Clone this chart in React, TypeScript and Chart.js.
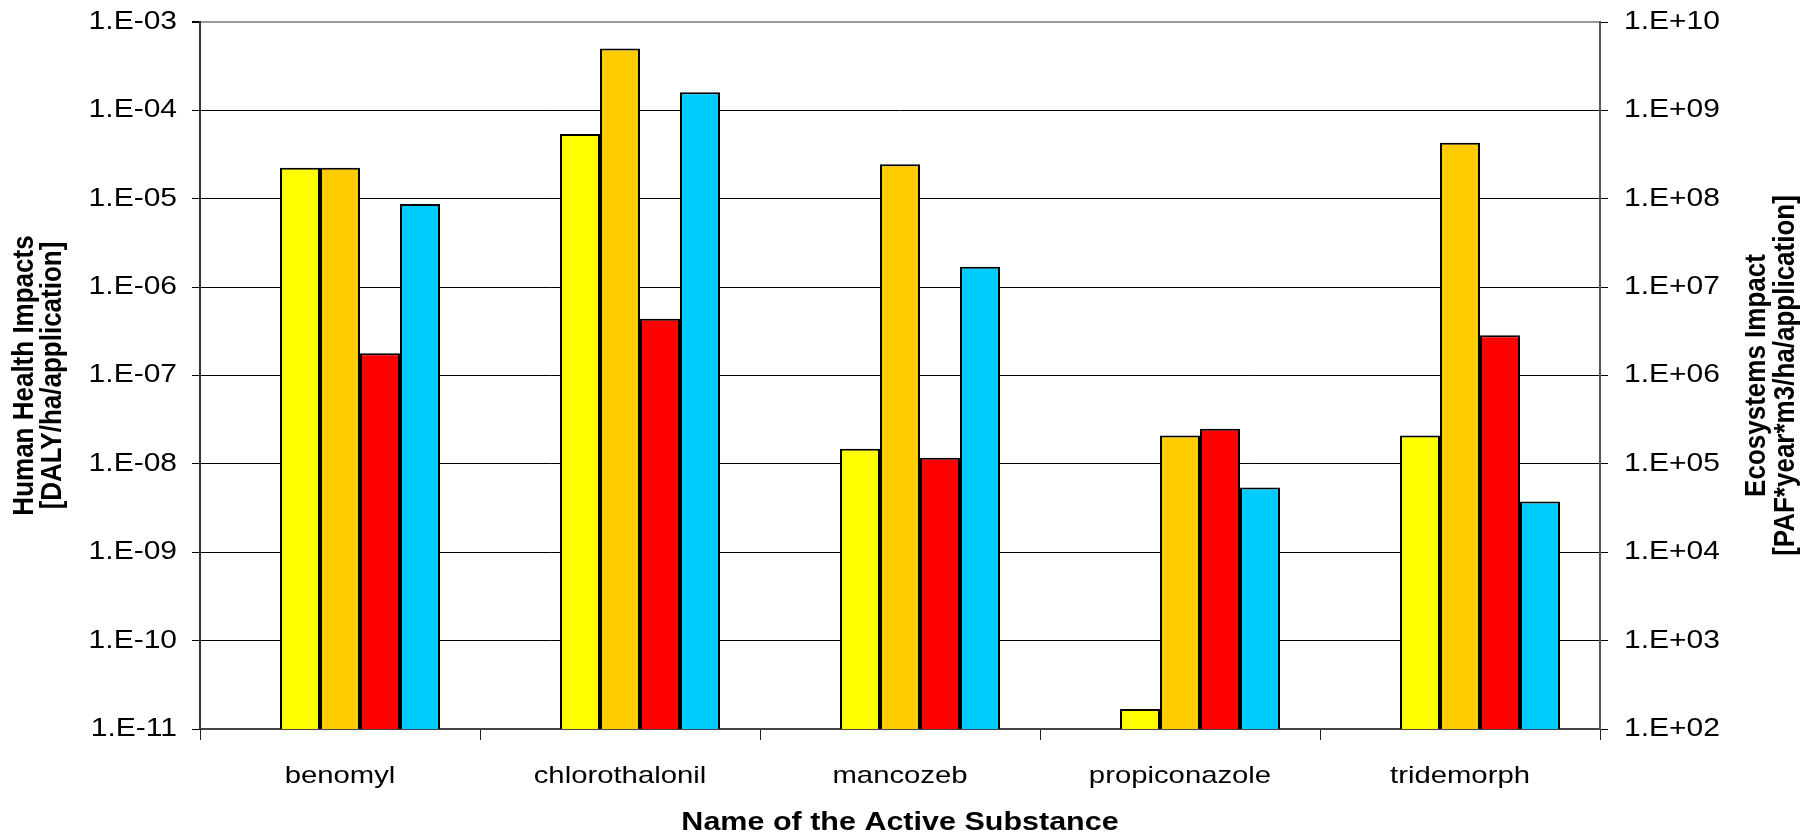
import { useEffect, useRef } from 'react';
import { Chart, registerables } from 'chart.js';

Chart.register(...registerables);

const categories = ['benomyl', 'chlorothalonil', 'mancozeb', 'propiconazole', 'tridemorph'];

// empty first slot in every group (as in the original chart)
const emptySeries = [null, null, null, null, null];
// human health impacts (left axis)
const yellowSeries = [2.25e-5, 5.4e-5, 1.48e-8, 1.68e-11, 2.1e-8];
const orangeSeries = [2.25e-5, 5.0e-4, 2.45e-5, 2.1e-8, 4.3e-5];
// ecosystems impacts (right axis)
const redSeries = [1.78e6, 4.4e6, 1.17e5, 2.5e5, 2.85e6];
const cyanSeries = [8.7e7, 1.6e9, 1.7e7, 5.4e4, 3.75e4];

const leftTickValues = [1e-11, 1e-10, 1e-9, 1e-8, 1e-7, 1e-6, 1e-5, 1e-4, 1e-3];
const leftTickLabels = ['1.E-11', '1.E-10', '1.E-09', '1.E-08', '1.E-07', '1.E-06', '1.E-05', '1.E-04', '1.E-03'];
const rightTickValues = [1e2, 1e3, 1e4, 1e5, 1e6, 1e7, 1e8, 1e9, 1e10];
const rightTickLabels = ['1.E+02', '1.E+03', '1.E+04', '1.E+05', '1.E+06', '1.E+07', '1.E+08', '1.E+09', '1.E+10'];

const xTitle = 'Name of the Active Substance';
const leftTitle = ['Human Health Impacts', '[DALY/ha/application]'];
const rightTitle = ['Ecosystems Impact', '[PAF*year*m3/ha/application]'];

const FONT = '"Liberation Sans", Arial, Helvetica, sans-serif';
const STRETCH = 1.2; // the original picture is widened horizontally

const textPlugin = {
  id: 'stretchedText',
  afterDraw(chart: any) {
    const { ctx, chartArea, scales } = chart;
    const put = (text: string, x: number, y: number, align: CanvasTextAlign, font: string, rot = 0, sx = STRETCH) => {
      ctx.save();
      ctx.translate(x, y);
      ctx.scale(sx, 1);
      if (rot) ctx.rotate(rot);
      ctx.font = font;
      ctx.fillStyle = '#000';
      ctx.textAlign = align;
      ctx.textBaseline = 'middle';
      ctx.fillText(text, 0, 0);
      ctx.restore();
    };
    const tickFont = `25px ${FONT}`;
    leftTickValues.forEach((v, i) => put(leftTickLabels[i], 177, scales.y.getPixelForValue(v), 'right', tickFont));
    rightTickValues.forEach((v, i) => put(rightTickLabels[i], 1624, scales.y2.getPixelForValue(v), 'left', tickFont));
    categories.forEach((c, i) => put(c, scales.x.getPixelForValue(i), 776, 'center', `24px ${FONT}`, 0, 1.22));
    put(xTitle, (chartArea.left + chartArea.right) / 2, 823, 'center', `bold 25px ${FONT}`, 0, 1.22);
    const cy = (chartArea.top + chartArea.bottom) / 2;
    const titleFont = `bold 26px ${FONT}`;
    leftTitle.forEach((line, i) => put(line, 25 + i * 28, cy, 'center', titleFont, -Math.PI / 2, 1.15));
    rightTitle.forEach((line, i) => put(line, 1757 + i * 29, cy, 'center', titleFont, -Math.PI / 2, 1.15));
  },
};

export default function App() {
  const ref = useRef<HTMLCanvasElement>(null);

  useEffect(() => {
    if (!ref.current) return;
    const barBase = { borderColor: '#000', borderWidth: 2, categoryPercentage: 200 / 280, barPercentage: 1.0 };
    const chart = new Chart(ref.current, {
      type: 'bar',
      data: {
        labels: categories,
        datasets: [
          { ...barBase, label: '', data: emptySeries, backgroundColor: '#fff', yAxisID: 'y' },
          { ...barBase, label: 'HH 1', data: yellowSeries, backgroundColor: '#FFFF00', yAxisID: 'y' },
          { ...barBase, label: 'HH 2', data: orangeSeries, backgroundColor: '#FFCC00', yAxisID: 'y' },
          { ...barBase, label: 'EQ 1', data: redSeries, backgroundColor: '#FF0000', yAxisID: 'y2' },
          { ...barBase, label: 'EQ 2', data: cyanSeries, backgroundColor: '#00CCFF', yAxisID: 'y2' },
        ] as any,
      },
      options: {
        animation: false,
        responsive: false,
        layout: { padding: { top: 22, left: 0, right: 0, bottom: 0 } },
        plugins: { legend: { display: false }, tooltip: { enabled: false } },
        scales: {
          x: {
            type: 'category',
            offset: true,
            grid: { offset: true, drawOnChartArea: false, drawTicks: true, tickLength: 11, color: '#222', lineWidth: 1 },
            border: { display: true, color: '#444', width: 2 },
            ticks: { display: false, autoSkip: false },
            afterFit: (s: any) => { s.height = 110; },
          },
          y: {
            type: 'logarithmic',
            position: 'left',
            min: 1e-11,
            max: 1e-3,
            afterBuildTicks: (s: any) => { s.ticks = leftTickValues.map((v) => ({ value: v })); },
            ticks: { display: false, autoSkip: false },
            grid: {
              color: (c: any) => (c.tick && c.tick.value >= 1e-3 ? '#999' : '#000'),
              lineWidth: (c: any) => (c.tick && c.tick.value >= 1e-3 ? 2 : 1),
              tickColor: '#000',
              tickLength: 8,
              drawTicks: true,
            },
            border: { display: true, color: '#333', width: 2 },
            afterFit: (s: any) => { s.width = 200; },
          },
          y2: {
            type: 'logarithmic',
            position: 'right',
            min: 1e2,
            max: 1e10,
            afterBuildTicks: (s: any) => { s.ticks = rightTickValues.map((v) => ({ value: v })); },
            ticks: { display: false, autoSkip: false },
            grid: { drawOnChartArea: false, tickColor: '#000', tickLength: 8, drawTicks: true },
            border: { display: true, color: '#555', width: 2 },
            afterFit: (s: any) => { s.width = 212; },
          },
        },
      } as any,
      plugins: [textPlugin],
    });
    return () => chart.destroy();
  }, []);

  return (
    <div style={{ position: 'fixed', left: 0, top: 0, width: 1812, height: 839, background: '#fff' }}>
      <canvas ref={ref} width={1812} height={839} style={{ display: 'block' }} />
    </div>
  );
}
